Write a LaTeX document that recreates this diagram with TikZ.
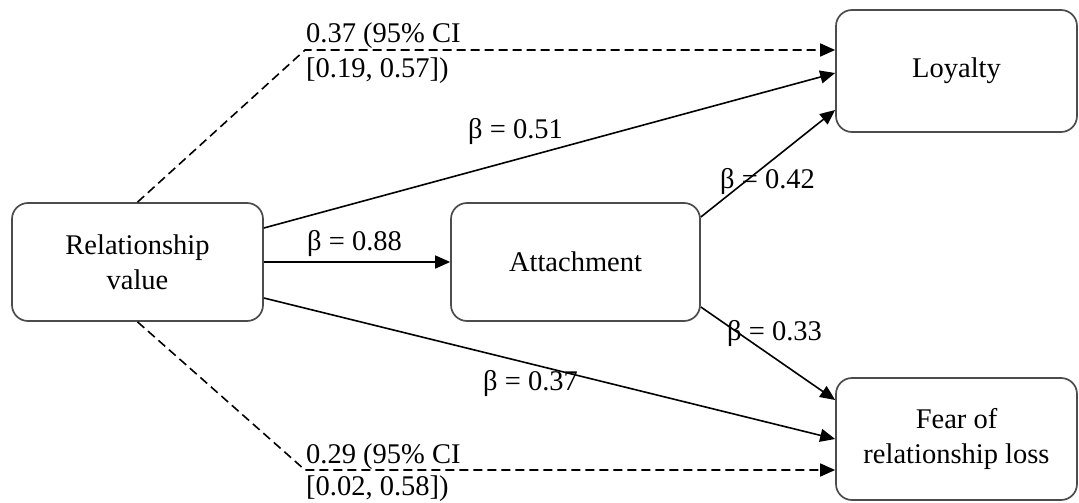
\documentclass[tikz,border=0pt]{standalone}
\usepackage{fontspec}
\setmainfont{Liberation Serif}
\usetikzlibrary{arrows.meta,calc}
\begin{document}
\begin{tikzpicture}[x=1pt,y=-1pt,
 box/.style={draw=black!70, line width=1.7pt, rounded corners=16pt, align=center, inner sep=0pt, font=\fontsize{28.5}{35}\selectfont},
 conn/.style={line width=1.6pt, -{Triangle[length=15pt,width=13pt]}},
 dashconn/.style={conn, dash pattern=on 9pt off 5pt},
 lbl/.style={inner sep=0pt, font=\fontsize{28.5}{35}\selectfont}
]
\useasboundingbox (0,0) rectangle (1079,503);

\node[box, minimum width=251pt, minimum height=118pt] (rv) at (137.5,262) {Relationship\\value};
\node[box, minimum width=249pt, minimum height=118pt] (att) at (575.5,262) {Attachment};
\node[box, minimum width=241pt, minimum height=122pt] (loy) at (956.5,71) {Loyalty};
\node[box, minimum width=241pt, minimum height=122pt] (fear) at (956.5,439) {Fear of\\relationship loss};

\coordinate (dt) at (305,50);
\coordinate (db) at (305,470);
\draw[dashconn] (rv.north) -- (dt) -- (dt -| loy.west);
\draw[dashconn] (rv.south) -- (db) -- (db -| fear.west);
\draw[conn] ([yshift=34pt]rv.east) -- ([yshift=-2pt]loy.west);
\draw[conn] (rv.east) -- (att.west);
\draw[conn] ([yshift=45pt]att.east) -- ([yshift=-39pt]loy.west);
\draw[conn] ([yshift=-45pt]att.east) -- ([yshift=39pt]fear.west);
\draw[conn] ([yshift=-36pt]rv.east) -- (fear.west);

\node[lbl, align=left, anchor=north west] (ci1) at (306,23) {0.37 (95\% CI\\{[0.19, 0.57])}};
\node[lbl, align=left, anchor=north west, font=\fontsize{28.5}{32}\selectfont] (ci2) at (306,444) {0.29 (95\% CI\\{[0.02, 0.58])}};
\node[lbl, anchor=base west] (b51) at (468,138) {β = 0.51};
\node[lbl, anchor=base west] (b88) at (307,250) {β = 0.88};
\node[lbl, anchor=base west] (b42) at (720,188) {β = 0.42};
\node[lbl, anchor=base west] (b33) at (727,340) {β = 0.33};
\node[lbl, anchor=base west] (b37) at (483,390) {β = 0.37};
\end{tikzpicture}
\end{document}
